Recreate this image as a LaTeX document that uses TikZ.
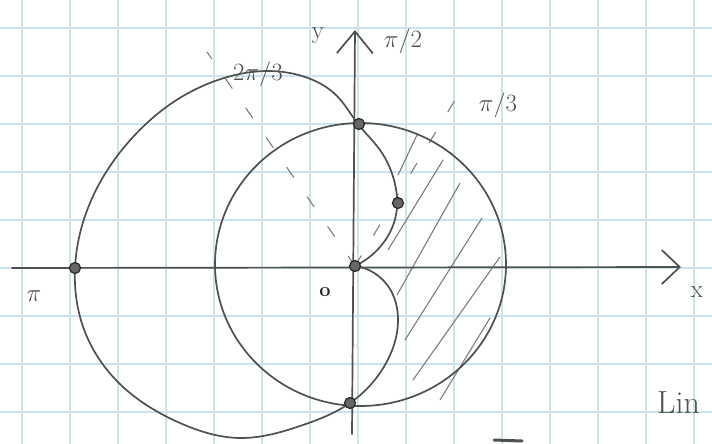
\documentclass[tikz,border=0pt]{standalone}
\usetikzlibrary{arrows.meta,hobby}
\definecolor{gridc}{RGB}{200,230,236}
\definecolor{pencil}{RGB}{80,80,80}
\definecolor{lightpencil}{RGB}{125,125,125}
\begin{document}
\begin{tikzpicture}[x=1pt,y=-1pt,
  pencil/.style={draw=pencil, line width=1.7pt, line cap=round, line join=round},
  hatchline/.style={draw=lightpencil, line width=1.1pt, line cap=round},
  guide/.style={draw=lightpencil, line width=1.1pt, dash pattern=on 12pt off 24pt, line cap=round},
  dotnode/.style={circle, fill=black!60, draw=black!85, line width=1.2pt, inner sep=0pt, minimum size=11pt},
  gridline/.style={draw=gridc, line width=1.3pt},
  lbl/.style={text=pencil, font=\fontsize{25}{25}\selectfont, inner sep=0pt}]
\useasboundingbox (0,0) rectangle (712,444);
\fill[white] (0,0) rectangle (712,444);
% grid paper
\foreach \k in {0,...,14} { \draw[gridline] (22+48*\k,0) -- (22+48*\k,444); }
\foreach \k in {0,...,8} { \draw[gridline] (0,28+48*\k) -- (712,28+48*\k); }
% named points
\coordinate (O) at (355,266);
\coordinate (xs) at (12,268);
\coordinate (xe) at (681,267);
\coordinate (ys) at (352,434);
\coordinate (ye) at (355,30);
\coordinate (d1) at (455,100);
\coordinate (d2) at (207,52);
% hatching
\draw[hatchline] (398,175) -- (417,135);
\draw[hatchline] (388,250) -- (443,160);
\draw[hatchline] (397,295) -- (460,183);
\draw[hatchline] (405,340) -- (482,218);
\draw[hatchline] (413,380) -- (500,257);
\draw[hatchline] (440,400) -- (490,318);
% dashed rays
\draw[guide] (O) -- (d1);
\draw[guide] (O) -- (d2);
% circle
\draw[pencil] (360.5,264.5) ellipse [x radius=145.5, y radius=141.5];
% cardioid
\draw[pencil, use Hobby shortcut] (355,266) .. (380,247) .. (396,215) .. (394,180)
 .. (380,150) .. (358,124) .. (337,96) .. (308,78) .. (268,71) .. (224,78)
 .. (175,101) .. (133,137) .. (96,190) .. (75,268) .. (85,332) .. (122,386) .. (180,423)
 .. (240,438) .. (300,426) .. (350,403) .. (385,365) .. (398,322) .. (388,286) .. (355,266);
% axes
\draw[pencil, -{Straight Barb[length=18pt,width=34pt]}] (xs) -- (xe);
\draw[pencil, -{Straight Barb[length=22pt,width=36pt]}] (ys) -- (ye);
% dots
\node[dotnode] (pO) at (O) {};
\node[dotnode] (pA) at (75,268) {};
\node[dotnode] (pT) at (359,124) {};
\node[dotnode] (pB) at (350,403) {};
\node[dotnode] (pP) at (398,203) {};
% labels
\node[lbl] (ly) at (318,36) {y};
\node[lbl] (lpi2) at (403,41) {$\pi/2$};
\node[lbl] (lpi3) at (498,105) {$\pi/3$};
\node[lbl] (l2pi3) at (258,74) {$2\pi/3$};
\node[lbl] (lpi) at (34,296) {$\pi$};
\node[lbl] (lx) at (697,292) {x};
\node[text=black!85, font=\fontsize{20}{20}\bfseries, inner sep=0pt] (l0) at (325,292) {o};
\node[lbl, anchor=base west, font=\fontsize{32}{32}\selectfont] (llin) at (657,413) {Lin};
\draw[pencil, line width=3pt] (494,440) -- (522,441);
\end{tikzpicture}
\end{document}
